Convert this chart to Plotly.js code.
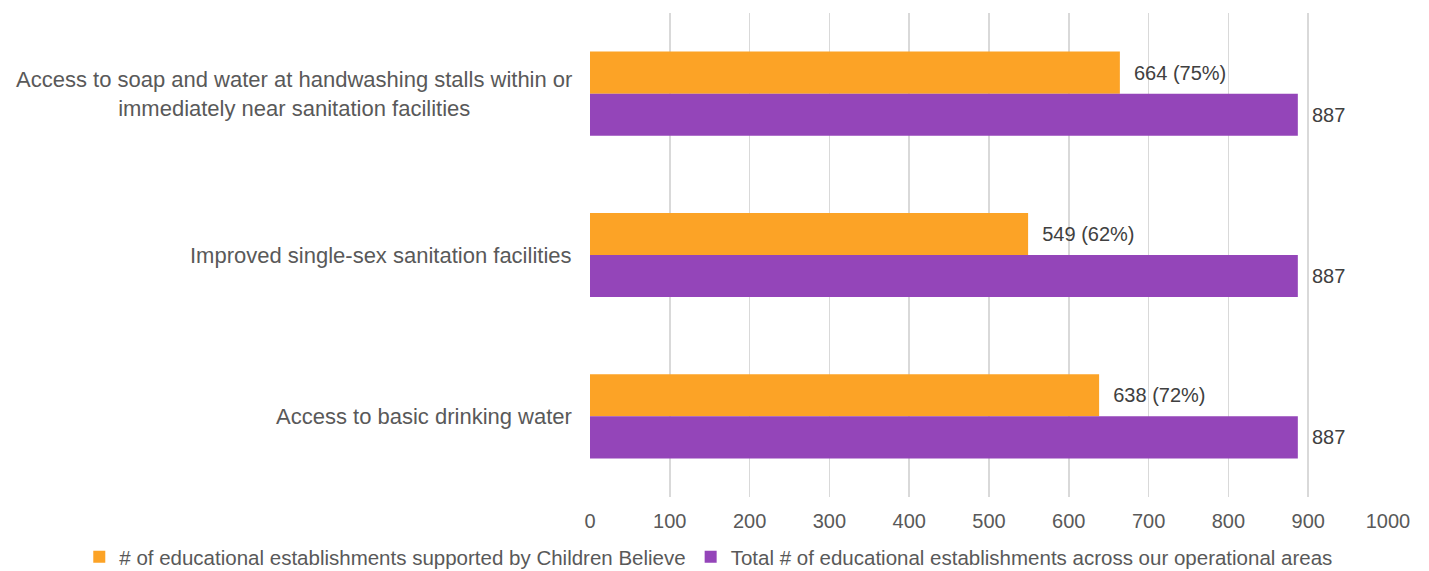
<!DOCTYPE html>
<html>
<head>
<meta charset="utf-8">
<script src="https://cdn.plot.ly/plotly-3.0.1.min.js"></script>
<style>html,body{margin:0;padding:0;background:#fff;}#chart{width:1429px;height:571px;}</style>
</head>
<body>
<div id="chart"></div>
<script>
const categories = [
  "Access to soap and water at handwashing stalls within or<br>immediately near sanitation facilities",
  "Improved single-sex sanitation facilities",
  "Access to basic drinking water"
];
const supported = [664, 549, 638];
const total = [887, 887, 887];
const seriesNames = [
  "# of educational establishments supported by Children Believe",
  "Total # of educational establishments across our operational areas"
];
const xTicks = [0, 100, 200, 300, 400, 500, 600, 700, 800, 900, 1000];

const orange = "#FCA326";
const purple = "#9445B9";
const textCol = "#595959";
const font = "Liberation Sans, Arial, sans-serif";

const supportedText = supported.map((v, i) => "  " + v + " (" + Math.round(v / total[i] * 100) + "%)");
const totalText = total.map(v => "  " + v);

const traces = [
  {
    type: "bar", orientation: "h", name: seriesNames[0],
    y: categories, x: supported, marker: {color: orange},
    text: supportedText, textposition: "outside", cliponaxis: false,
    textfont: {family: font, size: 20, color: "#404040"},
    hoverinfo: "none"
  },
  {
    type: "bar", orientation: "h", name: seriesNames[1],
    y: categories, x: total, marker: {color: purple},
    text: totalText, textposition: "outside", cliponaxis: false,
    textfont: {family: font, size: 20, color: "#404040"},
    hoverinfo: "none"
  }
];

const annotations = categories.map(c => ({
  xref: "paper", yref: "y", x: 0, y: c, xanchor: "right", yanchor: "middle",
  xshift: -16, text: c, showarrow: false, align: "center",
  font: {family: font, size: 22, color: textCol}
}));

const layout = {
  width: 1429, height: 571,
  margin: {l: 590, r: 41, t: 13, b: 74, autoexpand: false},
  paper_bgcolor: "#fff", plot_bgcolor: "#fff",
  barmode: "group", bargap: 0.478, bargroupgap: 0,
  showlegend: true,
  legend: {
    orientation: "h", xref: "paper", x: -0.64, xanchor: "left",
    yref: "paper", y: -0.124, yanchor: "middle",
    font: {family: font, size: 20.5, color: textCol},
    itemwidth: 30, traceorder: "normal", bgcolor: "rgba(0,0,0,0)"
  },
  xaxis: {
    range: [0, 1000], tickvals: xTicks, ticktext: xTicks.map(String),
    showgrid: true, gridcolor: "#d9d9d9", gridwidth: 1.5,
    zeroline: false, showline: false, ticks: "",
    ticklabelstandoff: 10,
    tickfont: {family: font, size: 20, color: textCol}
  },
  yaxis: {
    autorange: "reversed", showticklabels: false, ticks: "",
    showgrid: false, zeroline: false, showline: false
  },
  annotations: annotations,
  font: {family: font}
};

Plotly.newPlot("chart", traces, layout, {displayModeBar: false, staticPlot: true});
</script>
</body>
</html>
